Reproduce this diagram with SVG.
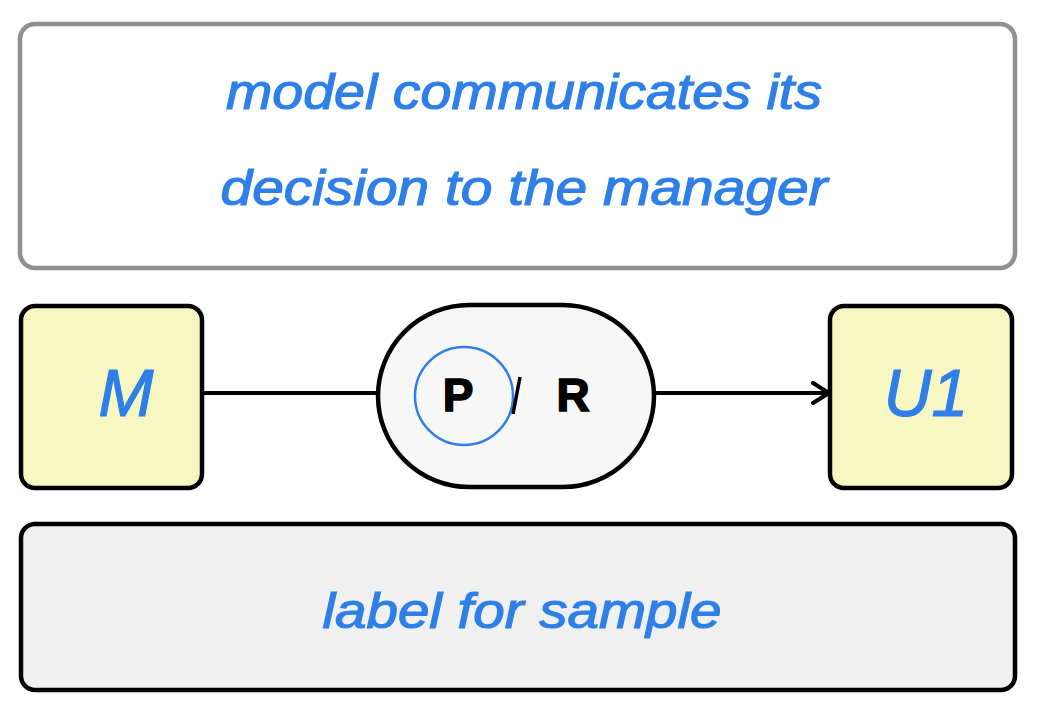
<svg xmlns="http://www.w3.org/2000/svg" width="1038" height="720" viewBox="0 0 1038 720">
<style>
.hand{font-family:"Liberation Sans","DejaVu Sans",sans-serif;font-style:italic;fill:#2f7fe9;stroke:#2f7fe9;stroke-width:1.2;text-anchor:middle}
.box{stroke:#000;stroke-width:4.5}
.conn{stroke:#000;stroke-width:4;fill:none}
.pr{font-family:"Liberation Sans",Arial,sans-serif;font-weight:bold;font-size:46px;fill:#000;stroke:#000;stroke-width:1.5;text-anchor:middle}
</style>
<defs>
<marker id="arr" viewBox="0 0 20 24" refX="18" refY="12" markerWidth="20" markerHeight="24" markerUnits="userSpaceOnUse" orient="auto">
<path d="M2,2 L18,12 L2,22" fill="none" stroke="#000" stroke-width="4" stroke-linecap="round" stroke-linejoin="round"/>
</marker>
</defs>
<rect width="1038" height="720" fill="#fff"/>
<g id="title">
<rect x="20" y="24" width="995" height="244" rx="15" fill="#fff" stroke="#909090" stroke-width="4.5"/>
<text class="hand" x="524" y="109" font-size="50" textLength="596" lengthAdjust="spacingAndGlyphs">model communicates its</text>
<text class="hand" x="524" y="205" font-size="50" textLength="607" lengthAdjust="spacingAndGlyphs">decision to the manager</text>
</g>
<g id="connectors">
<line class="conn" x1="203" y1="393" x2="378" y2="393"/>
<line class="conn" x1="654" y1="393" x2="829" y2="393" marker-end="url(#arr)"/>
</g>
<g id="M">
<rect class="box" x="21" y="306" width="181" height="182" rx="14" fill="#f6f7c1"/>
<text class="hand" x="126" y="416" font-size="66">M</text>
</g>
<g id="PR">
<rect class="box" x="378" y="305" width="276" height="182" rx="91" fill="#f7f7f7"/>
<circle cx="464" cy="396" r="49" fill="none" stroke="#2f7fe9" stroke-width="2.5"/>
<text class="pr" x="458" y="411">P</text>
<line x1="520" y1="377" x2="513" y2="414" stroke="#000" stroke-width="3.5"/>
<text class="pr" x="573" y="411">R</text>
</g>
<g id="U1">
<rect class="box" x="830" y="306" width="182" height="182" rx="14" fill="#f6f7c1"/>
<text class="hand" x="926" y="416" font-size="66">U1</text>
</g>
<g id="label">
<rect class="box" x="21" y="524" width="994" height="166" rx="14" fill="#f0f0f0"/>
<text class="hand" x="522" y="628" font-size="50" textLength="399" lengthAdjust="spacingAndGlyphs">label for sample</text>
</g>
</svg>
